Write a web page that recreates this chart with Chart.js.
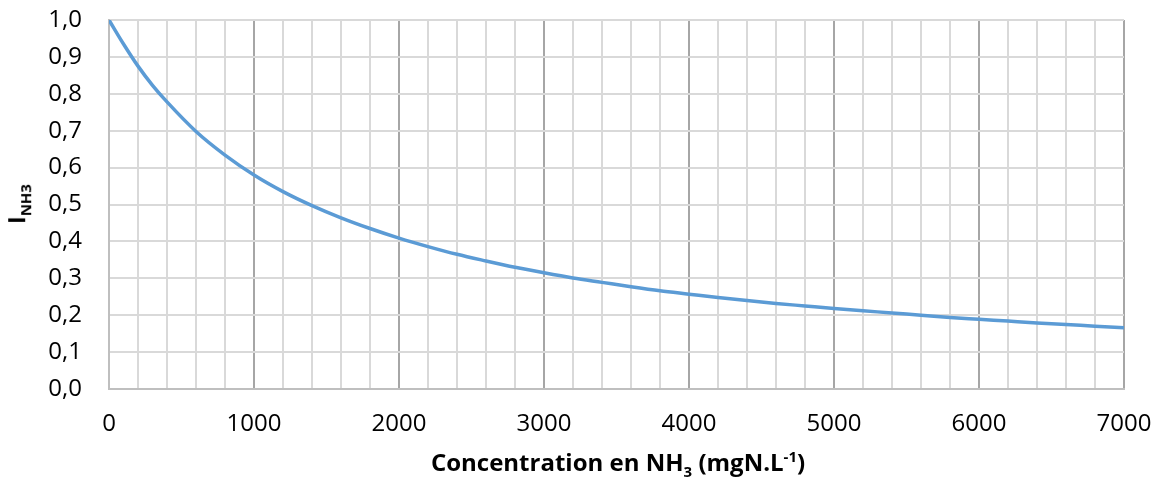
<!DOCTYPE html>
<html lang="fr">
<head>
    <meta charset="UTF-8">
    <title>Inhibition NH3</title>
    <script src="https://cdn.jsdelivr.net/npm/chart.js"></script>
    <style>
        html, body { margin: 0; padding: 0; background: #ffffff; }
        #wrap { position: relative; width: 1160px; height: 486px; }
        .axis-title {
            position: absolute;
            font-family: "Open Sans", sans-serif;
            font-weight: bold;
            color: #000;
            white-space: nowrap;
            line-height: 1;
        }
        #x-title { left: 618px; top: 464px; transform: translate(-50%, -50%); font-size: 24px; }
        #y-title { left: 19px; top: 204px; transform: translate(-50%, -50%) rotate(-90deg); font-size: 23px; }
        .axis-title sub, .axis-title sup { font-size: 15px; }
        #y-title sub { font-size: 15px; }
    </style>
</head>
<body>
    <div id="wrap">
        <canvas id="chart" width="1160" height="486"></canvas>
        <div id="x-title" class="axis-title">Concentration en NH<sub>3</sub> (mgN.L<sup>-1</sup>)</div>
        <div id="y-title" class="axis-title">I<sub>NH3</sub></div>
    </div>

    <script>
        // valeurs
        const concentrations = [0, 100, 200, 300, 400, 600, 800, 1000, 1200, 1400, 1600, 1800, 2000,
            2200, 2400, 2600, 2800, 3000, 3200, 3400, 3600, 3800, 4000, 4200, 4400, 4600, 4800, 5000,
            5200, 5400, 5600, 5800, 6000, 6200, 6400, 6600, 6800, 7000];
        const inhibition = [1.0, 0.935, 0.875, 0.823, 0.778, 0.698, 0.634, 0.580, 0.535, 0.497, 0.464, 0.435, 0.409,
            0.386, 0.365, 0.347, 0.330, 0.315, 0.301, 0.289, 0.277, 0.266, 0.257, 0.248, 0.240, 0.232, 0.225, 0.218,
            0.212, 0.206, 0.200, 0.194, 0.189, 0.184, 0.179, 0.175, 0.170, 0.166];
        const xMax = 7000;
        const xMinorStep = 200;
        const xMajorStep = 1000;
        const yStep = 0.1;

        const points = concentrations.map((c, i) => ({ x: c, y: inhibition[i] }));
        const tickFont = { family: '"Open Sans", sans-serif', size: 24 };

        const ctx = document.getElementById('chart').getContext('2d');
        new Chart(ctx, {
            type: 'line',
            data: {
                datasets: [{
                    data: points,
                    borderColor: '#5b9bd5',
                    borderWidth: 3.5,
                    pointRadius: 0,
                    fill: false,
                    cubicInterpolationMode: 'monotone'
                }]
            },
            options: {
                responsive: false,
                animation: false,
                layout: { padding: { top: 20, right: 36, left: 0, bottom: 0 } },
                plugins: { legend: { display: false }, tooltip: { enabled: false } },
                scales: {
                    x: {
                        type: 'linear',
                        min: 0,
                        max: xMax,
                        afterFit: (scale) => {
                            scale.height = 97;
                            scale.paddingLeft = 0;
                            scale.paddingRight = 0;
                        },
                        border: { color: '#bfbfbf', width: 2 },
                        grid: {
                            drawTicks: false,
                            lineWidth: 2,
                            color: (c) => (c.tick && c.tick.value % xMajorStep === 0) ? '#a6a6a6' : '#d9d9d9'
                        },
                        ticks: {
                            stepSize: xMinorStep,
                            autoSkip: false,
                            maxRotation: 0,
                            padding: 21,
                            color: '#000',
                            font: tickFont,
                            callback: (v) => v % xMajorStep === 0 ? String(v) : ''
                        }
                    },
                    y: {
                        min: 0,
                        max: 1,
                        afterFit: (scale) => {
                            scale.width = 109;
                            scale.paddingTop = 0;
                            scale.paddingBottom = 0;
                        },
                        border: { color: '#bfbfbf', width: 2 },
                        grid: { drawTicks: false, lineWidth: 2, color: '#d9d9d9' },
                        ticks: {
                            stepSize: yStep,
                            padding: 27,
                            color: '#000',
                            font: tickFont,
                            callback: (v) => v.toFixed(1).replace('.', ',')
                        }
                    }
                }
            }
        });
    </script>
</body>
</html>
